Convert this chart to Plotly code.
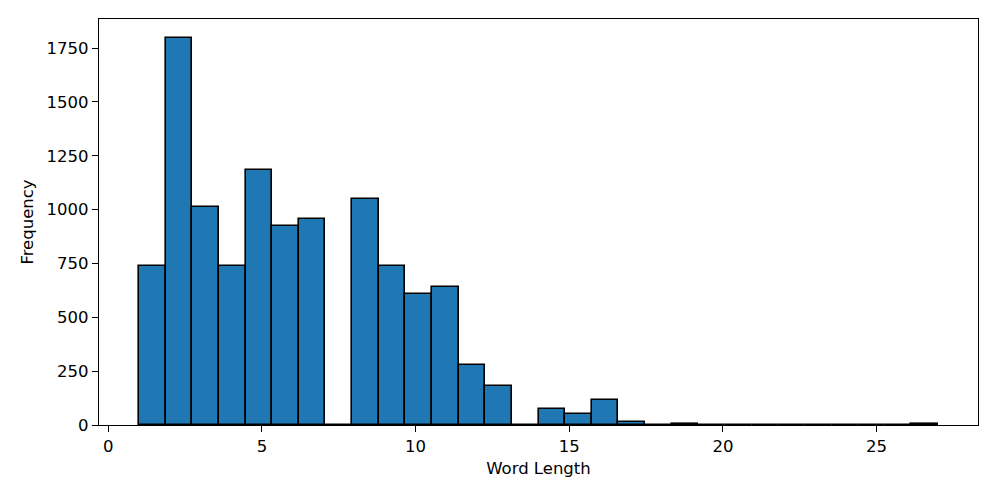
import numpy as np
import plotly.graph_objects as go

# histogram of word lengths: 30 bins between 1 and 27
bin_start = 1
bin_end = 27
n_bins = 30
counts = [740, 1795, 1010, 737, 1183, 922, 958, 0, 1048, 737,
          610, 640, 278, 180, 0, 75, 50, 117, 15, 0,
          3, 0, 2, 1, 0, 0, 0, 0, 0, 5]
x_ticks = [0, 5, 10, 15, 20, 25]
y_ticks = [0, 250, 500, 750, 1000, 1250, 1500, 1750]

edges = np.linspace(bin_start, bin_end, n_bins + 1)
centers = (edges[:-1] + edges[1:]) / 2
width = edges[1] - edges[0]

fig = go.Figure()
fig.add_trace(go.Bar(
    x=centers,
    y=counts,
    width=width,
    marker=dict(color='#1f77b4', line=dict(color='black', width=1.6)),
    showlegend=False,
))

span = bin_end - bin_start
fs = 16.5
# page body has an 8px margin, so the figure is a bit smaller than the window
fig.update_layout(
    width=989,
    height=490,
    plot_bgcolor='white',
    paper_bgcolor='white',
    font=dict(family='DejaVu Sans', size=fs, color='black'),
    margin=dict(l=91, r=19, t=11, b=73),
    bargap=0,
)
fig.update_xaxes(
    title=dict(text='Word Length', standoff=7, font=dict(size=fs)),
    tickfont=dict(size=fs),
    range=[bin_start - 0.05 * span, bin_end + 0.05 * span],
    tickvals=x_ticks,
    ticks='outside',
    ticklen=6,
    tickwidth=1.3,
    tickcolor='black',
    showline=True,
    linecolor='black',
    linewidth=1.3,
    mirror=True,
    showgrid=False,
    zeroline=False,
)
fig.update_yaxes(
    title=dict(text='Frequency', standoff=8, font=dict(size=fs)),
    tickfont=dict(size=fs),
    range=[0, max(counts) * 1.05],
    tickvals=y_ticks,
    ticks='outside',
    ticklen=6,
    tickwidth=1.3,
    tickcolor='black',
    showline=True,
    linecolor='black',
    linewidth=1.3,
    mirror=True,
    showgrid=False,
    zeroline=False,
)

fig.write_html("out.html")
